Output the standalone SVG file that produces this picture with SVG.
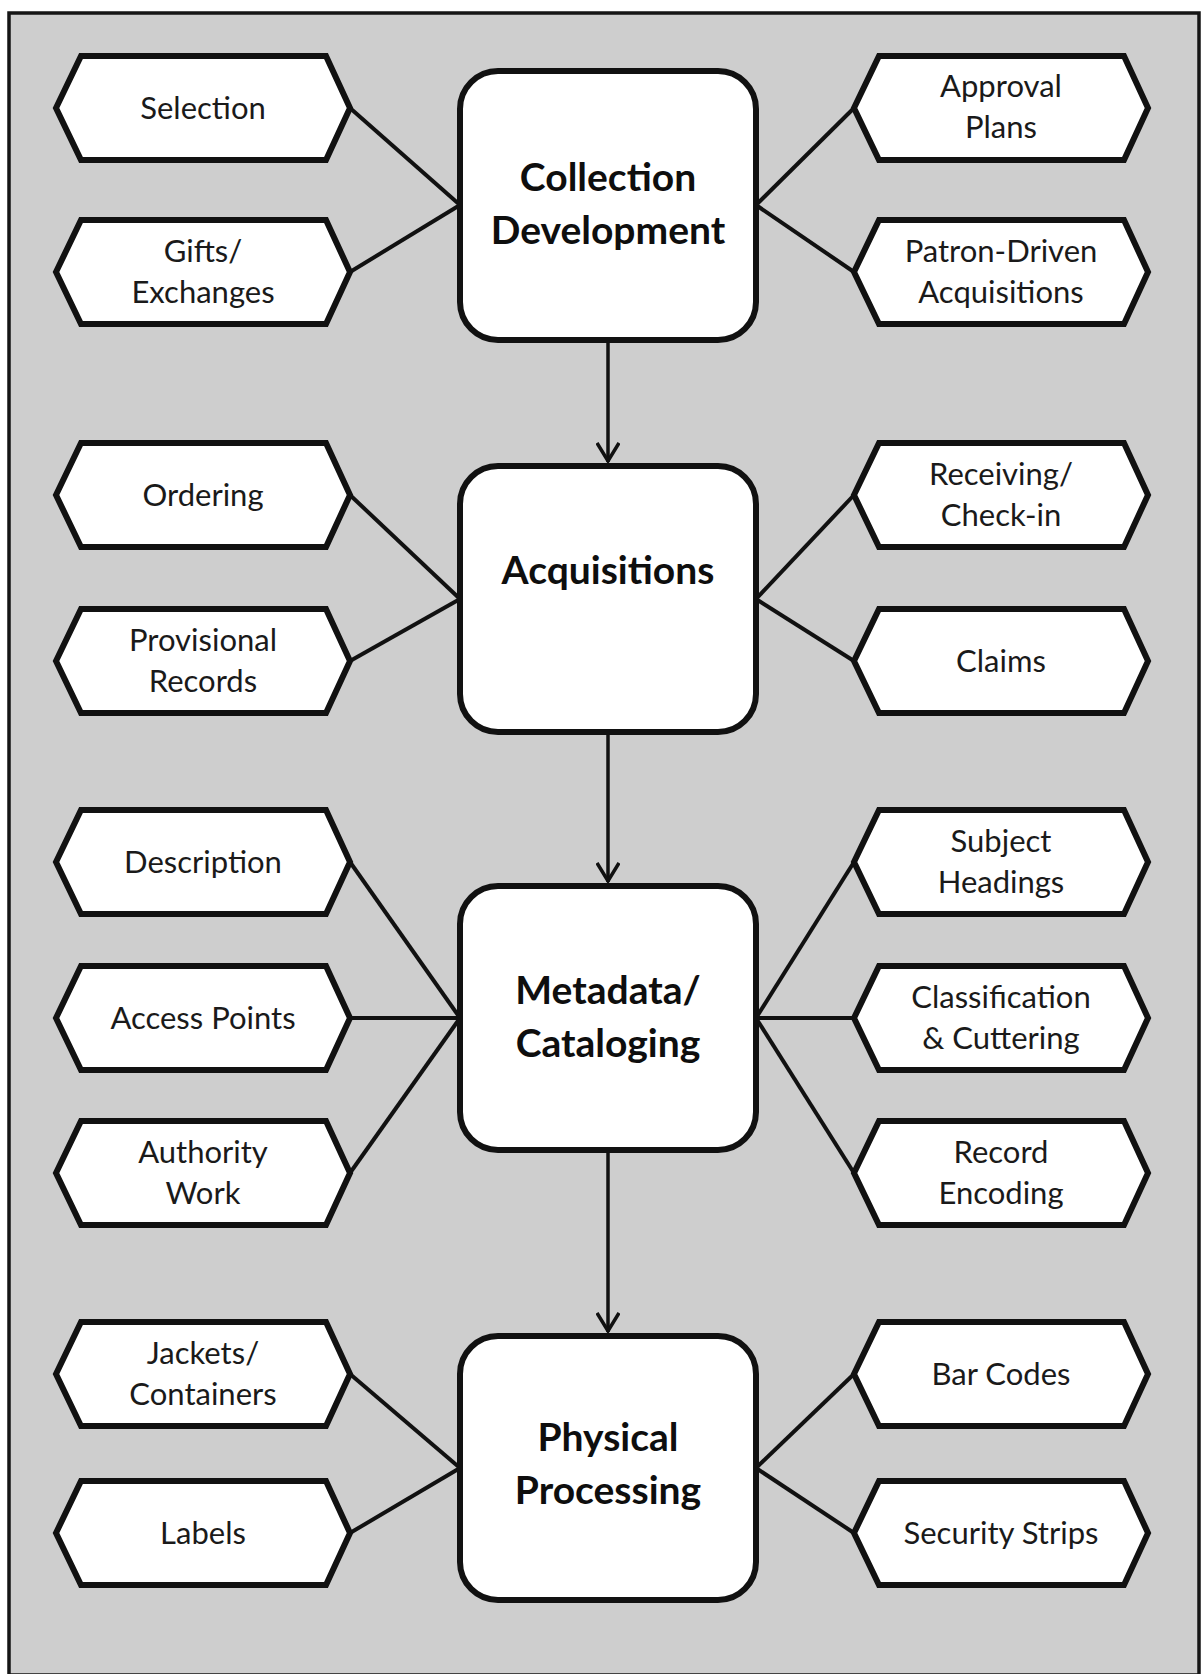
<svg xmlns="http://www.w3.org/2000/svg" xmlns:xlink="http://www.w3.org/1999/xlink" width="1203" height="1674" viewBox="0 0 1203 1674">
  <style>
    .hex { fill: #ffffff; stroke: #111111; stroke-width: 6; stroke-linejoin: miter; }
    .box { fill: #ffffff; stroke: #111111; stroke-width: 6; }
    .link { stroke: #111111; stroke-width: 4; fill: none; }
    .flow { stroke: #111111; stroke-width: 3.5; fill: none; }
    .lbl { font-family: Lato, "Open Sans", "Liberation Sans", sans-serif; font-size: 31px; fill: #1a1a1a; text-anchor: middle; }
    .ttl { font-family: Lato, "Open Sans", "Liberation Sans", sans-serif; font-size: 39px; font-weight: bold; fill: #0e0e0e; text-anchor: middle; }
  </style>
  <defs>
    <!-- hexagon centred on the origin -->
    <path id="hex" d="M -147 0 L -122 -52 L 123 -52 L 147 0 L 123 52 L -122 52 Z"/>
    <!-- open chevron head, drawn along +x -->
    <marker id="arrow" viewBox="0 0 24 24" refX="22" refY="12" markerWidth="24" markerHeight="24" markerUnits="userSpaceOnUse" orient="auto">
      <path d="M 3 1 L 21 12 L 3 23" fill="none" stroke="#111111" stroke-width="3.5"/>
    </marker>
  </defs>

  <!-- frame -->
  <rect x="0" y="0" width="1203" height="1674" fill="#ffffff"/>
  <rect x="9" y="13" width="1190" height="1662" fill="#cecece" stroke="#151515" stroke-width="3.5"/>

  <!-- connectors -->
  <g id="connectors">
    <line class="link" x1="350" y1="108" x2="460" y2="205"/>
    <line class="link" x1="350" y1="272" x2="460" y2="205"/>
    <line class="link" x1="854" y1="108" x2="756" y2="205"/>
    <line class="link" x1="854" y1="272" x2="756" y2="205"/>

    <line class="link" x1="350" y1="495" x2="460" y2="599"/>
    <line class="link" x1="350" y1="661" x2="460" y2="599"/>
    <line class="link" x1="854" y1="495" x2="756" y2="599"/>
    <line class="link" x1="854" y1="661" x2="756" y2="599"/>

    <line class="link" x1="350" y1="862" x2="460" y2="1018"/>
    <line class="link" x1="350" y1="1018" x2="460" y2="1018"/>
    <line class="link" x1="350" y1="1173" x2="460" y2="1018"/>
    <line class="link" x1="854" y1="862" x2="756" y2="1018"/>
    <line class="link" x1="854" y1="1018" x2="756" y2="1018"/>
    <line class="link" x1="854" y1="1173" x2="756" y2="1018"/>

    <line class="link" x1="350" y1="1374" x2="460" y2="1468"/>
    <line class="link" x1="350" y1="1533" x2="460" y2="1468"/>
    <line class="link" x1="854" y1="1374" x2="756" y2="1468"/>
    <line class="link" x1="854" y1="1533" x2="756" y2="1468"/>

    <line class="flow" x1="608" y1="343" x2="608" y2="462" marker-end="url(#arrow)"/>
    <line class="flow" x1="608" y1="735" x2="608" y2="882" marker-end="url(#arrow)"/>
    <line class="flow" x1="608" y1="1153" x2="608" y2="1332" marker-end="url(#arrow)"/>
  </g>

  <!-- main stages -->
  <g id="collection-development">
    <rect class="box" x="460" y="71" width="296" height="269" rx="38"/>
    <text class="ttl" x="608" y="191">Collection</text>
    <text class="ttl" x="608" y="244">Development</text>
  </g>
  <g id="acquisitions">
    <rect class="box" x="460" y="466" width="296" height="266" rx="38"/>
    <text class="ttl" x="608" y="584">Acquisitions</text>
  </g>
  <g id="metadata-cataloging">
    <rect class="box" x="460" y="886" width="296" height="264" rx="38"/>
    <text class="ttl" x="608" y="1004">Metadata/</text>
    <text class="ttl" x="608" y="1057">Cataloging</text>
  </g>
  <g id="physical-processing">
    <rect class="box" x="460" y="1336" width="296" height="264" rx="38"/>
    <text class="ttl" x="608" y="1451">Physical</text>
    <text class="ttl" x="608" y="1504">Processing</text>
  </g>

  <!-- collection development tasks -->
  <g id="selection">
    <use href="#hex" class="hex" x="203" y="108"/>
    <text class="lbl" x="203" y="119">Selection</text>
  </g>
  <g id="gifts-exchanges">
    <use href="#hex" class="hex" x="203" y="272"/>
    <text class="lbl" x="203" y="262">Gifts/</text>
    <text class="lbl" x="203" y="303">Exchanges</text>
  </g>
  <g id="approval-plans">
    <use href="#hex" class="hex" x="1001" y="108"/>
    <text class="lbl" x="1001" y="97">Approval</text>
    <text class="lbl" x="1001" y="138">Plans</text>
  </g>
  <g id="patron-driven">
    <use href="#hex" class="hex" x="1001" y="272"/>
    <text class="lbl" x="1001" y="262">Patron-Driven</text>
    <text class="lbl" x="1001" y="303">Acquisitions</text>
  </g>

  <!-- acquisitions tasks -->
  <g id="ordering">
    <use href="#hex" class="hex" x="203" y="495"/>
    <text class="lbl" x="203" y="506">Ordering</text>
  </g>
  <g id="provisional-records">
    <use href="#hex" class="hex" x="203" y="661"/>
    <text class="lbl" x="203" y="651">Provisional</text>
    <text class="lbl" x="203" y="692">Records</text>
  </g>
  <g id="receiving">
    <use href="#hex" class="hex" x="1001" y="495"/>
    <text class="lbl" x="1001" y="485">Receiving/</text>
    <text class="lbl" x="1001" y="526">Check-in</text>
  </g>
  <g id="claims">
    <use href="#hex" class="hex" x="1001" y="661"/>
    <text class="lbl" x="1001" y="672">Claims</text>
  </g>

  <!-- metadata / cataloging tasks -->
  <g id="description">
    <use href="#hex" class="hex" x="203" y="862"/>
    <text class="lbl" x="203" y="873">Description</text>
  </g>
  <g id="access-points">
    <use href="#hex" class="hex" x="203" y="1018"/>
    <text class="lbl" x="203" y="1029">Access Points</text>
  </g>
  <g id="authority-work">
    <use href="#hex" class="hex" x="203" y="1173"/>
    <text class="lbl" x="203" y="1163">Authority</text>
    <text class="lbl" x="203" y="1204">Work</text>
  </g>
  <g id="subject-headings">
    <use href="#hex" class="hex" x="1001" y="862"/>
    <text class="lbl" x="1001" y="852">Subject</text>
    <text class="lbl" x="1001" y="893">Headings</text>
  </g>
  <g id="classification">
    <use href="#hex" class="hex" x="1001" y="1018"/>
    <text class="lbl" x="1001" y="1008">Classification</text>
    <text class="lbl" x="1001" y="1049">&amp; Cuttering</text>
  </g>
  <g id="record-encoding">
    <use href="#hex" class="hex" x="1001" y="1173"/>
    <text class="lbl" x="1001" y="1163">Record</text>
    <text class="lbl" x="1001" y="1204">Encoding</text>
  </g>

  <!-- physical processing tasks -->
  <g id="jackets">
    <use href="#hex" class="hex" x="203" y="1374"/>
    <text class="lbl" x="203" y="1364">Jackets/</text>
    <text class="lbl" x="203" y="1405">Containers</text>
  </g>
  <g id="labels">
    <use href="#hex" class="hex" x="203" y="1533"/>
    <text class="lbl" x="203" y="1544">Labels</text>
  </g>
  <g id="bar-codes">
    <use href="#hex" class="hex" x="1001" y="1374"/>
    <text class="lbl" x="1001" y="1385">Bar Codes</text>
  </g>
  <g id="security-strips">
    <use href="#hex" class="hex" x="1001" y="1533"/>
    <text class="lbl" x="1001" y="1544">Security Strips</text>
  </g>
</svg>
